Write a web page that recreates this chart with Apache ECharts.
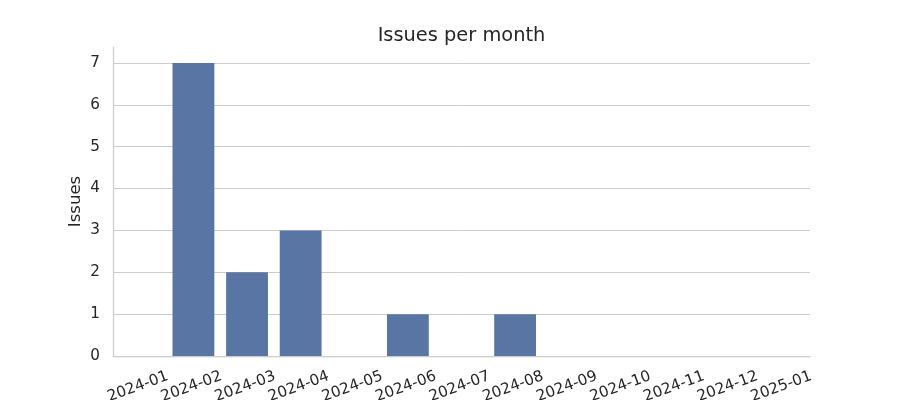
<!DOCTYPE html>
<html>
<head>
<meta charset="utf-8">
<script src="https://cdn.jsdelivr.net/npm/echarts@6/dist/echarts.min.js"></script>
<style>html,body{margin:0;padding:0;background:#fff}#c{width:900px;height:400px}</style>
</head>
<body>
<div id="c"></div>
<script>
const months = ['2024-01','2024-02','2024-03','2024-04','2024-05','2024-06','2024-07','2024-08','2024-09','2024-10','2024-11','2024-12','2025-01'];
const issues = [0, 7, 2, 3, 0, 1, 0, 1, 0, 0, 0, 0, 0];
const yTicks = [0, 1, 2, 3, 4, 5, 6, 7];
const yMax = 7.38;

const txt = '#262626';
const font = 'DejaVu Sans';
const chart = echarts.init(document.getElementById('c'), null, {renderer: 'canvas'});
chart.setOption({
  animation: false,
  backgroundColor: '#ffffff',
  textStyle: {fontFamily: font},
  title: {
    text: 'Issues per month',
    left: 456.5, top: 21,
    textAlign: 'center',
    textStyle: {fontFamily: font, fontSize: 19.4, fontWeight: 'normal', color: txt}
  },
  grid: {left: 113, right: 90, top: 47, bottom: 44, containLabel: false, outerBoundsMode: 'none'},
  xAxis: {
    type: 'category',
    data: months,
    axisLine: {show: true, lineStyle: {color: '#cccccc', width: 1.25}},
    axisTick: {show: false},
    splitLine: {show: false},
    axisLabel: {
      interval: 0, rotate: 20, align: 'center', verticalAlign: 'middle', margin: 30,
      padding: [0, 4, 0, 0],
      fontFamily: font, fontSize: 15.2, color: txt
    }
  },
  yAxis: {
    type: 'value',
    min: 0, max: yMax, interval: 1,
    name: 'Issues', nameLocation: 'middle', nameGap: 29, nameRotate: 90,
    nameMoveOverlap: false,
    nameTextStyle: {fontFamily: font, fontSize: 16.5, color: txt},
    axisLine: {show: true, lineStyle: {color: '#cccccc', width: 1.25}},
    axisTick: {show: false, customValues: yTicks},
    splitLine: {show: true, lineStyle: {color: '#cccccc', width: 1}},
    axisLabel: {customValues: yTicks, margin: 13, fontFamily: font, fontSize: 15.2, color: txt}
  },
  series: [{
    type: 'bar',
    data: issues,
    barCategoryGap: '22%',
    itemStyle: {color: '#5975a4'}
  }]
});
</script>
</body>
</html>
